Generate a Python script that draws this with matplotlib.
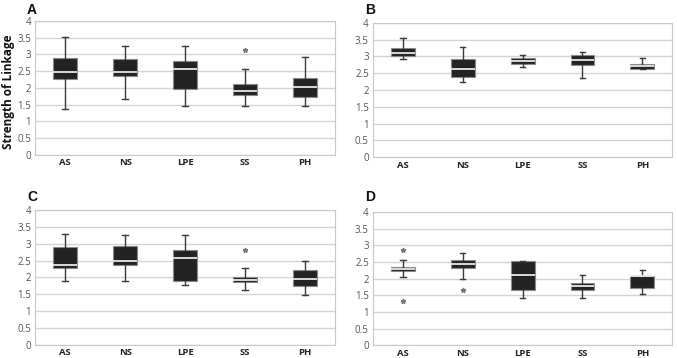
import matplotlib
matplotlib.use("Agg")
import matplotlib.pyplot as plt

plt.rcParams['font.family'] = ['Open Sans', 'DejaVu Sans']

categories = ["AS", "NS", "LPE", "SS", "PH"]
y_ticks = [0, 0.5, 1, 1.5, 2, 2.5, 3, 3.5, 4]
y_tick_labels = ["0", "0.5", "1", "1.5", "2", "2.5", "3", "3.5", "4"]

# Panel A
A_whislo = [1.38, 1.67, 1.47, 1.47, 1.47]
A_q1     = [2.27, 2.34, 1.97, 1.79, 1.74]
A_med    = [2.46, 2.47, 2.56, 1.92, 2.02]
A_q3     = [2.88, 2.87, 2.79, 2.11, 2.29]
A_whishi = [3.52, 3.25, 3.25, 2.56, 2.93]
A_fliers = [[], [], [], [3.12], []]

# Panel B
B_whislo = [2.91, 2.24, 2.68, 2.35, 2.64]
B_q1     = [3.02, 2.39, 2.78, 2.74, 2.64]
B_med    = [3.11, 2.64, 2.86, 2.90, 2.72]
B_q3     = [3.26, 2.91, 2.94, 3.05, 2.79]
B_whishi = [3.55, 3.28, 3.03, 3.14, 2.96]
B_fliers = [[], [], [], [], []]

# Panel C
C_whislo = [1.90, 1.90, 1.79, 1.64, 1.47]
C_q1     = [2.28, 2.36, 1.90, 1.86, 1.76]
C_med    = [2.38, 2.48, 2.58, 1.92, 1.94]
C_q3     = [2.89, 2.92, 2.82, 2.02, 2.21]
C_whishi = [3.28, 3.26, 3.26, 2.29, 2.50]
C_fliers = [[], [], [], [2.83], []]

# Panel D
D_whislo = [2.06, 1.99, 1.43, 1.43, 1.53]
D_q1     = [2.23, 2.32, 1.67, 1.66, 1.72]
D_med    = [2.29, 2.45, 2.11, 1.77, 2.07]
D_q3     = [2.36, 2.55, 2.54, 1.86, 2.07]
D_whishi = [2.56, 2.78, 2.54, 2.11, 2.27]
D_fliers = [[2.87, 1.34], [1.65], [], [], []]

panels = [
    ("A", A_whislo, A_q1, A_med, A_q3, A_whishi, A_fliers, [0.052, 0.567, 0.443, 0.375], 0.993),
    ("B", B_whislo, B_q1, B_med, B_q3, B_whishi, B_fliers, [0.551, 0.561, 0.442, 0.375], 0.993),
    ("C", C_whislo, C_q1, C_med, C_q3, C_whishi, C_fliers, [0.052, 0.037, 0.443, 0.376], 0.470),
    ("D", D_whislo, D_q1, D_med, D_q3, D_whishi, D_fliers, [0.551, 0.035, 0.442, 0.373], 0.470),
]

fig = plt.figure(figsize=(6.77, 3.58), dpi=100)

for letter, wlo, q1, med, q3, whi, fl, rect, ly in panels:
    ax = fig.add_axes(rect)
    stats = []
    for i, c in enumerate(categories):
        stats.append(dict(label=c, whislo=wlo[i], q1=q1[i], med=med[i],
                          q3=q3[i], whishi=whi[i], fliers=fl[i]))
    ax.bxp(stats, positions=range(1, 6), widths=0.4, patch_artist=True,
           showfliers=True, capwidths=0.09,
           boxprops=dict(facecolor='#232323', edgecolor='#8a8a8a', linewidth=0.8),
           medianprops=dict(color='#e8e8e8', linewidth=1.3),
           whiskerprops=dict(color='#3a3a3a', linewidth=1.0),
           capprops=dict(color='#3a3a3a', linewidth=1.0),
           flierprops=dict(marker='*', markersize=3.5, markerfacecolor='#777777',
                           markeredgecolor='#777777', linestyle='none'),
           zorder=3)
    ax.set_xlim(0.5, 5.5)
    ax.set_ylim(0, 4)
    ax.set_yticks(y_ticks)
    ax.set_yticklabels(y_tick_labels, fontsize=7, color='#555555')
    ax.set_xticks(range(1, 6))
    ax.set_xticklabels(categories, fontsize=6.8, fontweight='bold', color='#222222')
    ax.tick_params(axis='both', length=0)
    ax.tick_params(axis='y', pad=3)
    ax.tick_params(axis='x', pad=2.5)
    ax.yaxis.grid(True, color='#d4d4d4', linewidth=1.0)
    ax.set_axisbelow(True)
    for s in ax.spines.values():
        s.set_color('#c8c8c8')
        s.set_linewidth(0.8)
    fig.text(rect[0] - 0.012, ly, letter, fontsize=10,
             fontweight='bold', family=['Liberation Sans', 'DejaVu Sans'],
             ha='left', va='top', color='#111111')

fig.text(0.012, 0.745, "Strength of Linkage", rotation=90, fontsize=8.5,
         fontweight='bold', ha='center', va='center', color='#111111')

fig.savefig("out.png", dpi=100)
